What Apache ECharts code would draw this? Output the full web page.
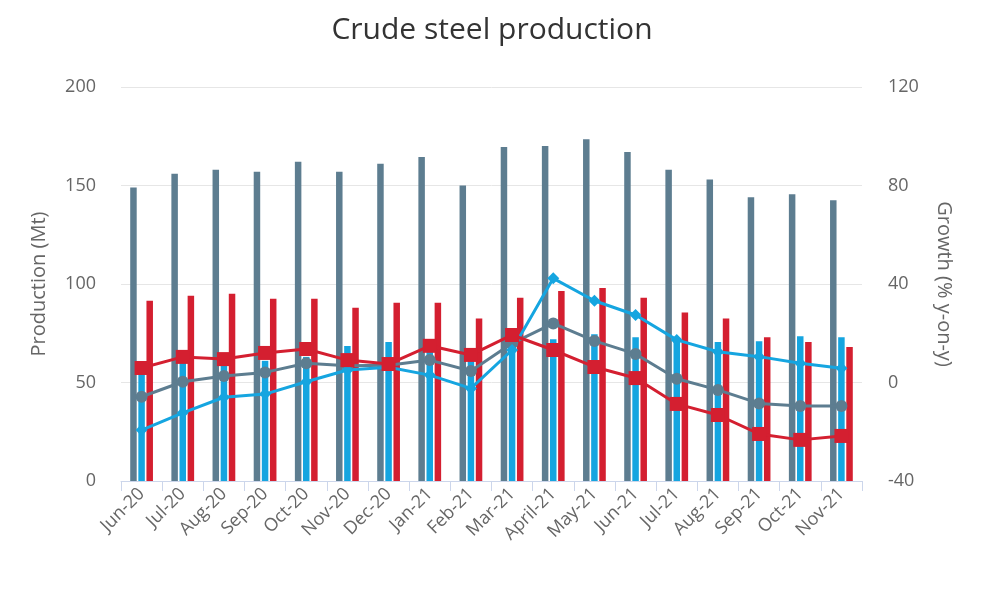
<!DOCTYPE html>
<html>
<head>
<meta charset="utf-8">
<script src="https://cdn.jsdelivr.net/npm/echarts@6/dist/echarts.min.js"></script>
<style>
html,body{margin:0;padding:0;background:#fff;}
#chart{width:984px;height:589px;}
</style>
</head>
<body>
<div id="chart"></div>
<script>
var categories = ['Jun-20','Jul-20','Aug-20','Sep-20','Oct-20','Nov-20','Dec-20','Jan-21','Feb-21','Mar-21','April-21','May-21','Jun-21','Jul-21','Aug-21','Sep-21','Oct-21','Nov-21'];
var worldProduction = [149,156,158,157,162,157,161,164.5,150,169.5,170,173.5,167,158,153,144,145.5,142.5];
var chinaProduction = [55,60,59,61,63,68.5,70.5,65.5,62,68,72,74.5,73,71.5,70.5,71,73.5,73];
var restProduction = [91.5,94,95,92.5,92.5,88,90.5,90.5,82.5,93,96.5,98,93,85.5,82.5,73,70.5,68];
var worldGrowth = [-5.8,0.3,2.6,4.1,7.8,6.8,7,9.1,4.7,15.9,24,16.9,11.6,1.5,-3,-8.5,-9.5,-9.5];
var chinaGrowth = [-19.3,-12.3,-6,-4.7,0.3,5.1,6.2,3,-2.4,13.2,42.3,33.2,27.4,17.3,12.5,10.5,7.8,5.8];
var restGrowth = [5.9,10.4,9.5,12,13.6,9.1,7.5,14.9,11.2,19.3,13.2,6.3,1.8,-8.7,-13.2,-20.9,-23.3,-21.7];
var leftTicks = [0,50,100,150,200];
var rightTicks = [-40,0,40,80,120];

var cGrey = '#5d7d90', cBlue = '#15a5e0', cRed = '#d41f30';
var font = '"Open Sans", "Noto Sans", sans-serif';

var chart = echarts.init(document.getElementById('chart'), null, {renderer:'canvas'});
chart.setOption({
  animation:false,
  backgroundColor:'#fff',
  title:{text:'Crude steel production', left:'center', top:10,
    textStyle:{fontFamily:font, fontSize:30, fontWeight:'normal', color:'#333'}},
  grid:{left:121, right:122, top:87, bottom:108, containLabel:false},
  xAxis:{type:'category', data:categories, boundaryGap:true,
    axisLine:{lineStyle:{color:'#ccd6eb', width:1}},
    axisTick:{show:true, interval:0, length:10, lineStyle:{color:'#ccd6eb'}},
    axisLabel:{interval:0, rotate:45, color:'#666', fontFamily:font, fontSize:18, margin:10},
    splitLine:{show:false}},
  yAxis:[
    {type:'value', min:leftTicks[0], max:leftTicks[leftTicks.length-1], interval:50,
      name:'Production (Mt)', nameLocation:'middle', nameGap:72, nameRotate:90,
      nameTextStyle:{color:'#666', fontFamily:font, fontSize:20},
      axisLine:{show:false}, axisTick:{show:false},
      axisLabel:{color:'#666', fontFamily:font, fontSize:18, margin:25},
      splitLine:{lineStyle:{color:'#e6e6e6', width:1}}},
    {type:'value', min:rightTicks[0], max:rightTicks[rightTicks.length-1], interval:40,
      name:'Growth (% y-on-y)', nameLocation:'middle', nameGap:72, nameRotate:-90,
      nameTextStyle:{color:'#666', fontFamily:font, fontSize:20},
      axisLine:{show:false}, axisTick:{show:false},
      axisLabel:{color:'#666', fontFamily:font, fontSize:18, margin:26},
      splitLine:{show:false}}
  ],
  series:[
    {name:'World production', type:'bar', yAxisIndex:0, data:worldProduction, barWidth:6.5, barGap:'25%', itemStyle:{color:cGrey}},
    {name:'China production', type:'bar', yAxisIndex:0, data:chinaProduction, barWidth:6.5, barGap:'25%', itemStyle:{color:cBlue}},
    {name:'Rest of world production', type:'bar', yAxisIndex:0, data:restProduction, barWidth:6.5, barGap:'25%', itemStyle:{color:cRed}},
    {name:'World growth', type:'line', yAxisIndex:1, data:worldGrowth, symbol:'circle', symbolSize:12,
      lineStyle:{color:cGrey, width:3}, itemStyle:{color:cGrey}, z:3},
    {name:'China growth', type:'line', yAxisIndex:1, data:chinaGrowth, symbol:'diamond', symbolSize:12,
      lineStyle:{color:cBlue, width:3}, itemStyle:{color:cBlue}, z:3},
    {name:'Rest of world growth', type:'line', yAxisIndex:1, data:restGrowth, symbol:'rect', symbolSize:14,
      lineStyle:{color:cRed, width:3}, itemStyle:{color:cRed}, z:3}
  ]
});
</script>
</body>
</html>
